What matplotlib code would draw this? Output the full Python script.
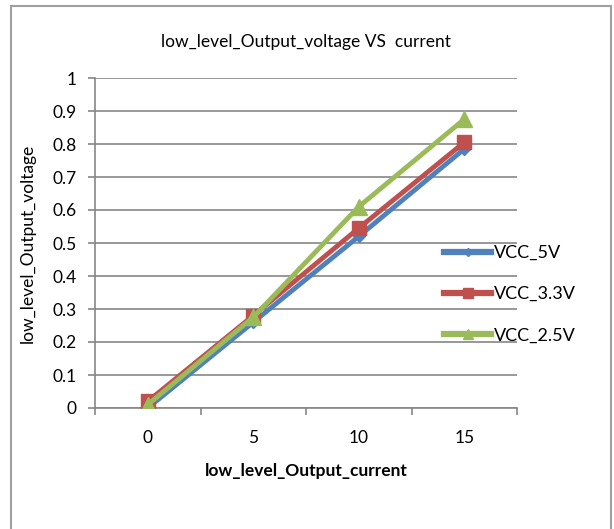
import numpy as np
import matplotlib.pyplot as plt
import matplotlib.patches as patches

categories = ['0', '5', '10', '15']
vcc_5v = [0.0, 0.26, 0.52, 0.785]
vcc_3v3 = [0.02, 0.28, 0.545, 0.805]
vcc_2v5 = [0.01, 0.275, 0.61, 0.875]

plt.rcParams['font.family'] = ['Lato', 'DejaVu Sans']

fig = plt.figure(figsize=(6.14, 5.29), dpi=100)
# outer chart frame
fig.patches.append(patches.Rectangle((11/614, -0.05), 600/614, 1.05 - 6/529, transform=fig.transFigure,
                                     fill=False, edgecolor='#a0a0a0', linewidth=1.5))

ax = fig.add_axes([95/614, 1 - 408/529, 422/614, 330/529])
x = np.arange(len(categories))
ax.plot(x, vcc_5v, color='#4F81BD', linewidth=3.5, marker='D', markersize=6, label='VCC_5V', zorder=3)
ax.plot(x, vcc_3v3, color='#C0504D', linewidth=3.5, marker='s', markersize=10, label='VCC_3.3V', zorder=4)
ax.plot(x, vcc_2v5, color='#9BBB59', linewidth=3.5, marker='^', markersize=11, label='VCC_2.5V', zorder=5)

ax.set_xlim(-0.5, 3.5)
ax.set_ylim(0, 1)
ax.set_yticks(np.arange(0, 1.01, 0.1))
ax.set_yticklabels(['0', '0.1', '0.2', '0.3', '0.4', '0.5', '0.6', '0.7', '0.8', '0.9', '1'])
ax.set_xticks(x)
ax.set_xticklabels(categories)
ax.set_xticks(np.arange(-0.5, 4, 1), minor=True)
ax.tick_params(axis='x', which='major', length=0, pad=16, labelsize=12.5)
ax.tick_params(axis='x', which='minor', length=5, color='#868686', width=1.2)
ax.tick_params(axis='y', length=5, color='#868686', width=1.2, pad=8, labelsize=12.5)
ax.grid(axis='y', color='#868686', linewidth=1.2)
ax.set_axisbelow(True)
for s in ['top', 'right']:
  ax.spines[s].set_visible(False)
for s in ['left', 'bottom']:
  ax.spines[s].set_color('#868686')
  ax.spines[s].set_linewidth(1.2)

ax.set_title('low_level_Output_voltage VS  current', fontsize=12.5, pad=22)
ax.set_xlabel('low_level_Output_current', fontsize=12.5, fontweight='bold', labelpad=12)
ax.set_ylabel('low_level_Output_voltage', fontsize=12.5, labelpad=12)

leg = ax.legend(loc='center left', bbox_to_anchor=(0.81, 0.345), frameon=False, fontsize=13,
                handlelength=2.6, handletextpad=0.15, labelspacing=1.4, borderaxespad=0,
                markerscale=0.7)
for line in leg.get_lines():
  line.set_linewidth(4.5)

fig.savefig('out.png', dpi=100)
